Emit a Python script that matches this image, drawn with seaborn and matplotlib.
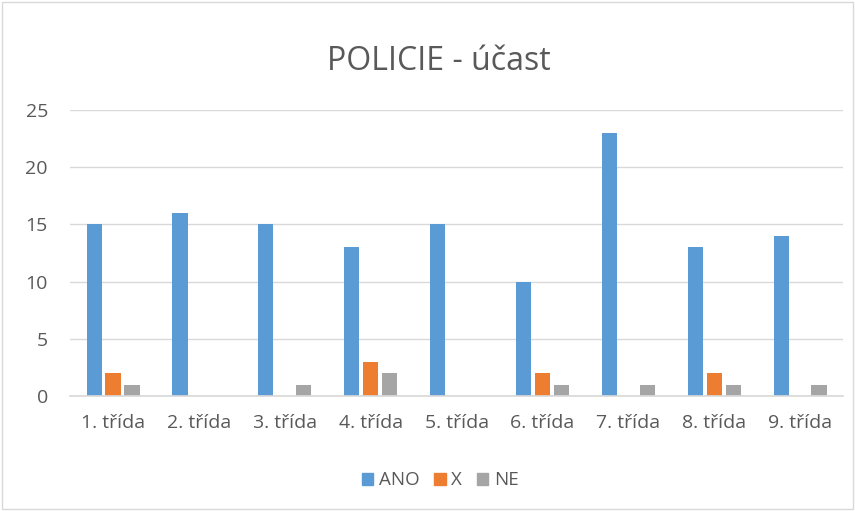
import matplotlib
matplotlib.use("Agg")
import matplotlib.pyplot as plt
import matplotlib.patches as mpatches
import seaborn as sns
import pandas as pd

categories = ["1. třída", "2. třída", "3. třída", "4. třída", "5. třída",
              "6. třída", "7. třída", "8. třída", "9. třída"]
ano = [15, 16, 15, 13, 15, 10, 23, 13, 14]
x_vals = [2, 0, 0, 3, 0, 2, 0, 2, 0]
ne = [1, 0, 1, 2, 0, 1, 1, 1, 1]
series_names = ["ANO", "X", "NE"]
colors = ["#5B9BD5", "#ED7D31", "#A5A5A5"]
title = "POLICIE - účast"

rows = []
for name, vals in zip(series_names, [ano, x_vals, ne]):
    for c, v in zip(categories, vals):
        rows.append({"cat": c, "val": v, "series": name})
df = pd.DataFrame(rows)

sns.set_theme(style="white")
plt.rcParams["font.family"] = ["Open Sans", "DejaVu Sans"]
text_color = "#595959"

fig = plt.figure(figsize=(8.55, 5.11), dpi=100)
ax = fig.add_axes([0.082, 0.225, 0.904, 0.56])

sns.barplot(data=df, x="cat", y="val", hue="series", order=categories,
            hue_order=series_names, palette=colors, width=0.66, gap=0.2,
            saturation=1, linewidth=0, ax=ax, legend=False)

ax.set_ylim(0, 25)
ax.set_yticks([0, 5, 10, 15, 20, 25])
ax.set_xlim(-0.5, len(categories) - 0.5)
ax.yaxis.grid(True, color="#D9D9D9", linewidth=1)
ax.set_axisbelow(True)
for s in ["top", "right", "left"]:
    ax.spines[s].set_visible(False)
ax.spines["bottom"].set_color("#D9D9D9")
ax.tick_params(axis="both", colors=text_color, labelsize=14, length=0)
ax.tick_params(axis="x", pad=13)
ax.tick_params(axis="y", pad=16)
ax.set_xlabel("")
ax.set_ylabel("")

fig.text(0.513, 0.88, title, ha="center", va="center", fontsize=23, color=text_color)

handles = [mpatches.Patch(color=c, label=n) for c, n in zip(colors, series_names)]
fig.legend(handles=handles, loc="center", bbox_to_anchor=(0.515, 0.06), ncol=3,
           frameon=False, fontsize=13.5, labelcolor=text_color, handlelength=0.6,
           handleheight=0.6, handletextpad=0.3, columnspacing=0.8)

fig.patches.append(mpatches.Rectangle((0.002, 0.003), 0.996, 0.994, transform=fig.transFigure,
                                      fill=False, edgecolor="#D9D9D9", linewidth=1))

fig.savefig("out.png", dpi=100, facecolor="white")
